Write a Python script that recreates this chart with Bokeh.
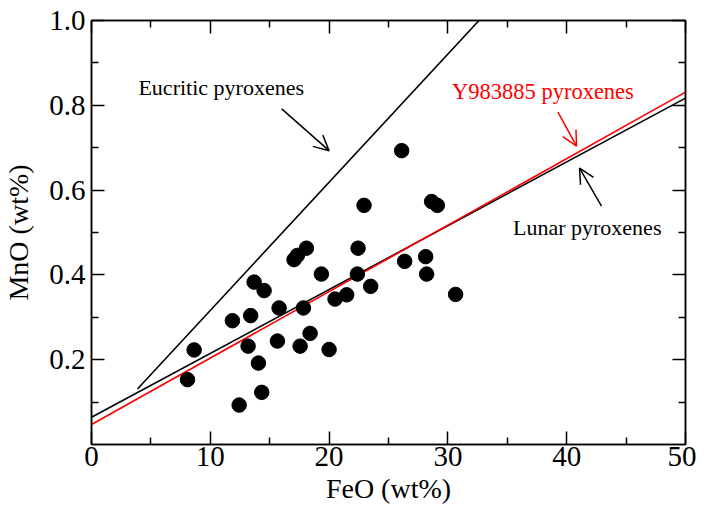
from bokeh.plotting import figure
from bokeh.models import Range1d, LinearAxis, FixedTicker, Label, Arrow, OpenHead
from bokeh.embed import file_html
from bokeh.resources import INLINE

# ---- data ----
feo = [8.08, 8.64, 12.43, 11.86, 13.40, 13.18, 13.69, 14.53, 14.05, 14.33,
       15.79, 15.65, 17.05, 17.33, 18.09, 17.84, 17.56, 18.40, 19.35, 20.00,
       20.50, 21.48, 22.38, 22.44, 22.94, 23.50, 26.11, 26.36, 28.13, 28.21,
       28.63, 29.11, 30.65]
mno = [0.153, 0.223, 0.093, 0.292, 0.304, 0.232, 0.383, 0.363, 0.192, 0.123,
       0.322, 0.244, 0.436, 0.446, 0.463, 0.322, 0.232, 0.262, 0.402, 0.224,
       0.343, 0.353, 0.402, 0.463, 0.564, 0.373, 0.693, 0.432, 0.443, 0.402,
       0.573, 0.564, 0.354]

eucrite_x = [3.87, 32.62]
eucrite_y = [0.131, 1.0]
lunar_x = [0.0, 50.0]
lunar_y = [0.0644, 0.817]
y98_x = [0.0, 50.0]
y98_y = [0.047, 0.831]

x_ticks = [0, 10, 20, 30, 40, 50]
x_minor = [5, 15, 25, 35, 45]
y_ticks = [0.2, 0.4, 0.6, 0.8, 1.0]
y_minor = [0.1, 0.3, 0.5, 0.7, 0.9]

FONT = "Liberation Serif"

p = figure(frame_width=594, frame_height=424,
           x_range=Range1d(0, 50), y_range=Range1d(0, 1),
           output_backend="svg", toolbar_location=None,
           min_border_left=91, min_border_top=20,
           min_border_right=11, min_border_bottom=71)
p.grid.visible = False
p.outline_line_color = "black"
p.outline_line_width = 1.5
p.background_fill_color = "white"
p.border_fill_color = "white"

xt = FixedTicker(ticks=x_ticks, minor_ticks=x_minor)
yt = FixedTicker(ticks=y_ticks, minor_ticks=y_minor)

def style(ax, labels=True):
    ax.axis_line_color = "black"
    ax.axis_line_width = 1.5
    ax.major_tick_line_color = "black"
    ax.minor_tick_line_color = "black"
    ax.major_tick_line_width = 1.5
    ax.minor_tick_line_width = 1.5
    ax.major_tick_in = 13
    ax.major_tick_out = 0
    ax.minor_tick_in = 7
    ax.minor_tick_out = 0
    ax.major_label_text_font = FONT
    ax.axis_label_text_font = FONT
    ax.axis_label_text_font_style = "normal"
    ax.axis_label_text_color = "black"
    if labels:
        ax.major_label_text_color = "black"
        ax.major_label_text_font_size = "29px"
        ax.axis_label_text_font_size = "28px"
    else:
        ax.major_label_text_color = None
        ax.major_label_text_font_size = "1px"
        ax.major_label_standoff = 0

xa = p.xaxis[0]
xa.ticker = xt
style(xa)
xa.axis_label = "FeO (wt%)"
xa.major_label_standoff = 2
xa.axis_label_standoff = 4

ya = p.yaxis[0]
ya.ticker = yt
style(ya)
ya.axis_label = "MnO (wt%)"
ya.major_label_overrides = {0.2: "0.2", 0.4: "0.4", 0.6: "0.6", 0.8: "0.8", 1.0: "1.0"}
ya.major_label_standoff = 6
ya.axis_label_standoff = 12

top = LinearAxis(ticker=xt)
style(top, labels=False)
p.add_layout(top, "above")
right = LinearAxis(ticker=yt)
style(right, labels=False)
p.add_layout(right, "right")

# lines
p.line(eucrite_x, eucrite_y, line_color="black", line_width=1.6)
p.line(lunar_x, lunar_y, line_color="black", line_width=1.6)
p.line(y98_x, y98_y, line_color="red", line_width=1.6)

# points
p.scatter(feo, mno, size=14.5, fill_color="black", line_color="black")

# annotations
p.add_layout(Label(x=3.95, y=0.843, text="Eucritic pyroxenes", text_font=FONT,
                   text_font_size="22px", text_color="black",
                   text_align="left", text_baseline="middle"))
p.add_layout(Label(x=38.0, y=0.8325, text="Y983885 pyroxenes", text_font=FONT,
                   text_font_size="22.5px", text_color="red",
                   text_align="center", text_baseline="middle"))
p.add_layout(Label(x=35.48, y=0.5125, text="Lunar pyroxenes", text_font=FONT,
                   text_font_size="22px", text_color="black",
                   text_align="left", text_baseline="middle"))

p.add_layout(Arrow(end=OpenHead(size=15, line_width=1.5, line_color="black"),
                   x_start=16.01, y_start=0.7915, x_end=20.0, y_end=0.693,
                   line_width=1.5, line_color="black"))
p.add_layout(Arrow(end=OpenHead(size=15, line_width=1.5, line_color="red"),
                   x_start=39.26, y_start=0.784, x_end=40.83, y_end=0.7035,
                   line_width=1.5, line_color="red"))
p.add_layout(Arrow(end=OpenHead(size=15, line_width=1.5, line_color="black"),
                   x_start=42.93, y_start=0.562, x_end=41.08, y_end=0.652,
                   line_width=1.5, line_color="black"))

open("out.html", "w").write(file_html(p, INLINE))
